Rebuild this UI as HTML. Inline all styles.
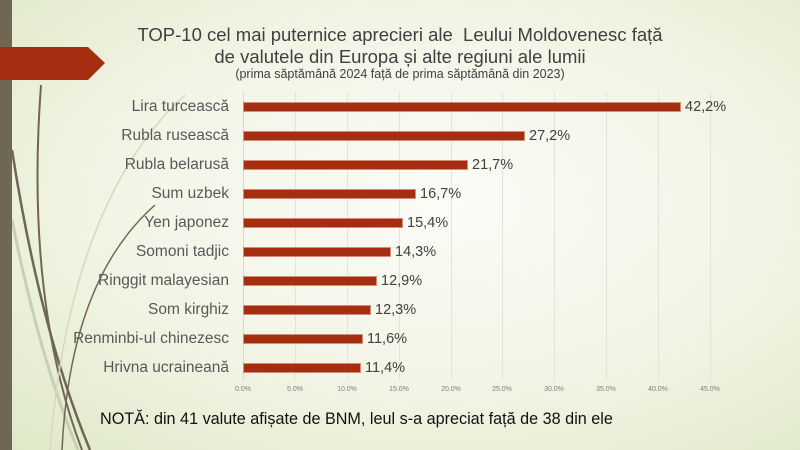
<!DOCTYPE html>
<html><head><meta charset="utf-8"><style>
body{margin:0;width:800px;height:450px;overflow:hidden;font-family:"Liberation Sans",sans-serif;}
#c{position:relative;width:800px;height:450px;background:radial-gradient(ellipse at 55% 45%,#fbfcf7 0%,#f1f4e4 55%,#dfe8c8 100%);}
.t{position:absolute;left:50px;width:700px;text-align:center;color:#404040;}
.lab{position:absolute;right:571px;font-size:15.5px;color:#595959;white-space:nowrap;}
.bar{position:absolute;left:243px;height:10px;background:#a52d10;border:1px solid #d48b78;box-sizing:border-box;}
.val{position:absolute;font-size:14.5px;color:#404040;}
.g{position:absolute;top:92px;height:288px;width:1px;background:#e3e3dc;}
.tk{position:absolute;top:386px;font-size:7px;color:#7f7f7f;width:40px;text-align:center;}
</style></head><body><div id="c">
<svg width="800" height="450" style="position:absolute;left:0;top:0">
<path d="M41 85 Q25 300 82 450" stroke="#6f6753" stroke-width="2" fill="none"/>
<path d="M12 150 Q40 330 90 450" stroke="#6f6753" stroke-width="2.5" fill="none"/>
<path d="M12 220 Q40 360 78 450" stroke="#c9cfb0" stroke-width="3" fill="none"/>
<path d="M155 205 Q70 280 62 450" stroke="#6f6753" stroke-width="1.5" fill="none"/>
<path d="M185 95 Q70 200 50 450" stroke="#d4d9c0" stroke-width="1.5" fill="none"/>
<rect x="0" y="0" width="12" height="450" fill="#6f6753"/>
<polygon points="0,47 88,47 105,63 88,80 0,80" fill="#a52d10"/>
</svg>
<div class="t" style="top:24px;font-size:18.5px;">TOP-10 cel mai puternice aprecieri ale&nbsp; Leului Moldovenesc față<br>de valutele din Europa și alte regiuni ale lumii</div>
<div class="t" style="top:67px;font-size:12.5px;">(prima săptămână 2024 față de prima săptămână din 2023)</div>
<div class="g" style="left:243px;background:#d8d8d0"></div>
<div class="g" style="left:295px"></div><div class="g" style="left:347px"></div><div class="g" style="left:399px"></div><div class="g" style="left:451px"></div><div class="g" style="left:502px"></div><div class="g" style="left:554px"></div><div class="g" style="left:606px"></div><div class="g" style="left:658px"></div><div class="g" style="left:710px"></div>
<div class="tk" style="left:223px">0.0%</div><div class="tk" style="left:275px">5.0%</div><div class="tk" style="left:327px">10.0%</div><div class="tk" style="left:379px">15.0%</div><div class="tk" style="left:431px">20.0%</div><div class="tk" style="left:482px">25.0%</div><div class="tk" style="left:534px">30.0%</div><div class="tk" style="left:586px">35.0%</div><div class="tk" style="left:638px">40.0%</div><div class="tk" style="left:690px">45.0%</div>

<div class="lab" style="top:98px">Lira turcească</div><div class="bar" style="top:102px;width:438px"></div><div class="val" style="top:99px;left:685px">42,2%</div>
<div class="lab" style="top:127px">Rubla rusească</div><div class="bar" style="top:131px;width:282px"></div><div class="val" style="top:128px;left:529px">27,2%</div>
<div class="lab" style="top:156px">Rubla belarusă</div><div class="bar" style="top:160px;width:225px"></div><div class="val" style="top:157px;left:472px">21,7%</div>
<div class="lab" style="top:185px">Sum uzbek</div><div class="bar" style="top:189px;width:173px"></div><div class="val" style="top:186px;left:420px">16,7%</div>
<div class="lab" style="top:214px">Yen japonez</div><div class="bar" style="top:218px;width:160px"></div><div class="val" style="top:215px;left:407px">15,4%</div>
<div class="lab" style="top:243px">Somoni tadjic</div><div class="bar" style="top:247px;width:148px"></div><div class="val" style="top:244px;left:395px">14,3%</div>
<div class="lab" style="top:272px">Ringgit malayesian</div><div class="bar" style="top:276px;width:134px"></div><div class="val" style="top:273px;left:381px">12,9%</div>
<div class="lab" style="top:301px">Som kirghiz</div><div class="bar" style="top:305px;width:128px"></div><div class="val" style="top:302px;left:375px">12,3%</div>
<div class="lab" style="top:330px">Renminbi-ul chinezesc</div><div class="bar" style="top:334px;width:120px"></div><div class="val" style="top:331px;left:367px">11,6%</div>
<div class="lab" style="top:359px">Hrivna ucraineană</div><div class="bar" style="top:363px;width:118px"></div><div class="val" style="top:360px;left:365px">11,4%</div>

<div style="position:absolute;left:100px;top:410px;font-size:16.2px;color:#111">NOTĂ: din 41 valute afișate de BNM, leul s-a apreciat față de 38 din ele</div>
</div></body></html>
